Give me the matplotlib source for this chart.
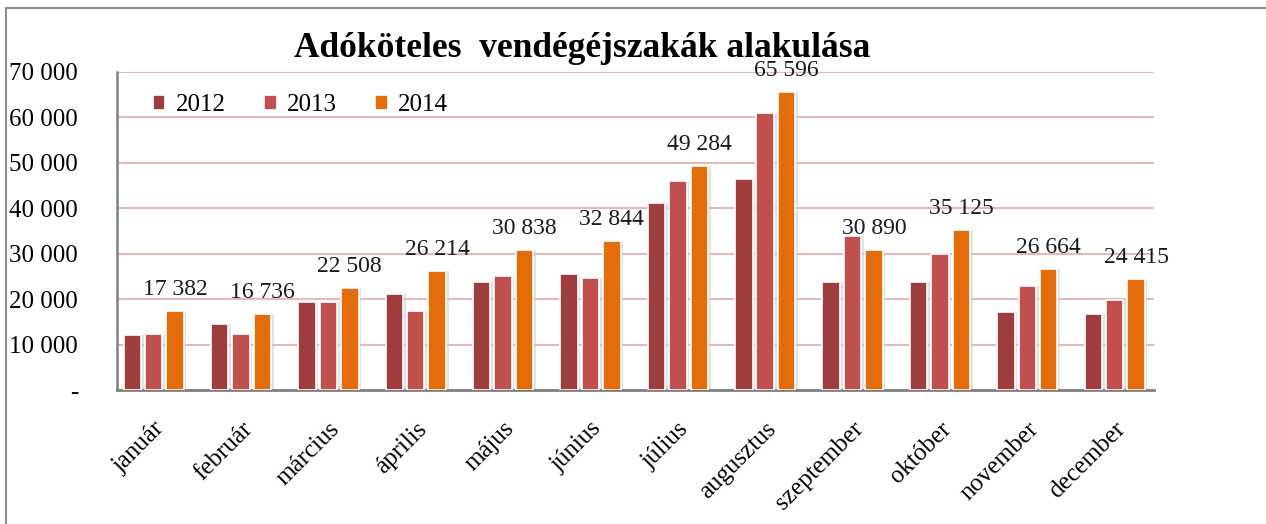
import matplotlib.pyplot as plt
import numpy as np
from matplotlib.patches import Rectangle

honapok = ["január", "február", "március", "április", "május", "június",
           "július", "augusztus", "szeptember", "október", "november", "december"]
ev2012 = [12000, 14500, 19300, 21100, 23700, 25500, 41200, 46500, 23700, 23700, 17100, 16700]
ev2013 = [12300, 12300, 19300, 17500, 25000, 24600, 46100, 61000, 33800, 29900, 22800, 19800]
ev2014 = [17382, 16736, 22508, 26214, 30838, 32844, 49284, 65596, 30890, 35125, 26664, 24415]
evek = ["2012", "2013", "2014"]
szinek = ["#9E3D3D", "#C0504D", "#E46C0A"]
yticks = [0, 10000, 20000, 30000, 40000, 50000, 60000, 70000]


def fmt(v):
    return "{:,}".format(v).replace(",", " ")


plt.rcParams['font.family'] = ['Liberation Serif', 'DejaVu Serif']

fig = plt.figure(figsize=(12.66, 5.24), dpi=100)
ax = fig.add_axes([0.0924, 0.2557, 0.8191, 0.6069])

x = np.arange(len(honapok))
w = 0.245
adatok = [ev2012, ev2013, ev2014]
for i, (vals, c, ev) in enumerate(zip(adatok, szinek, evek)):
    pos = x + (i - 1) * w
    # halvany arnyek a oszlopok mogott
    ax.bar(pos + 0.03, vals, width=0.2, color="#d0d0d0", zorder=2, alpha=0.6)
    ax.bar(pos, vals, width=0.2, color=c, edgecolor="white", linewidth=1.2,
           label=ev, zorder=3)

for xi, v in zip(x + w, ev2014):
    ax.annotate(fmt(v), (xi, v), xytext=(0, 8), textcoords="offset points",
                ha="center", va="bottom", fontsize=17, color="#1a1a1a", zorder=5)

ax.set_xlim(-0.42, 11.45)
ax.set_ylim(0, 70000)
ax.set_yticks(yticks)
ax.set_yticklabels(["-"] + [fmt(t) for t in yticks[1:]], fontsize=18)
ax.tick_params(axis="y", length=0, pad=28)
ax.get_yticklabels()[0].set_y(-1200)
ax.set_xticks(x)
ax.set_xticklabels(honapok, rotation=45, ha="right", rotation_mode="anchor", fontsize=18)
ax.tick_params(axis="x", length=0, pad=20)

ax.yaxis.grid(True, color="#E6B9B8", linewidth=1.5, zorder=0)
ax.set_axisbelow(True)
for s in ["top", "right"]:
    ax.spines[s].set_visible(False)
ax.spines["left"].set_color("#808080")
ax.spines["left"].set_linewidth(1.8)
ax.spines["bottom"].set_color("#808080")
ax.spines["bottom"].set_linewidth(2)

leg = ax.legend(loc="upper left", bbox_to_anchor=(0.013, 1.0), ncol=3, frameon=False,
                fontsize=18, handlelength=0.5, handleheight=0.5, handletextpad=0.4,
                columnspacing=1.55)

fig.text(0.46, 0.907, "Adóköteles  vendégéjszakák alakulása", ha="center", va="center",
         fontsize=25.5, fontweight="bold")

fig.patches.append(Rectangle((0.005, -0.01), 1.2, 0.995, transform=fig.transFigure,
                             fill=False, edgecolor="#8c8c8c", linewidth=1.5))

fig.savefig("out.png", dpi=100)
